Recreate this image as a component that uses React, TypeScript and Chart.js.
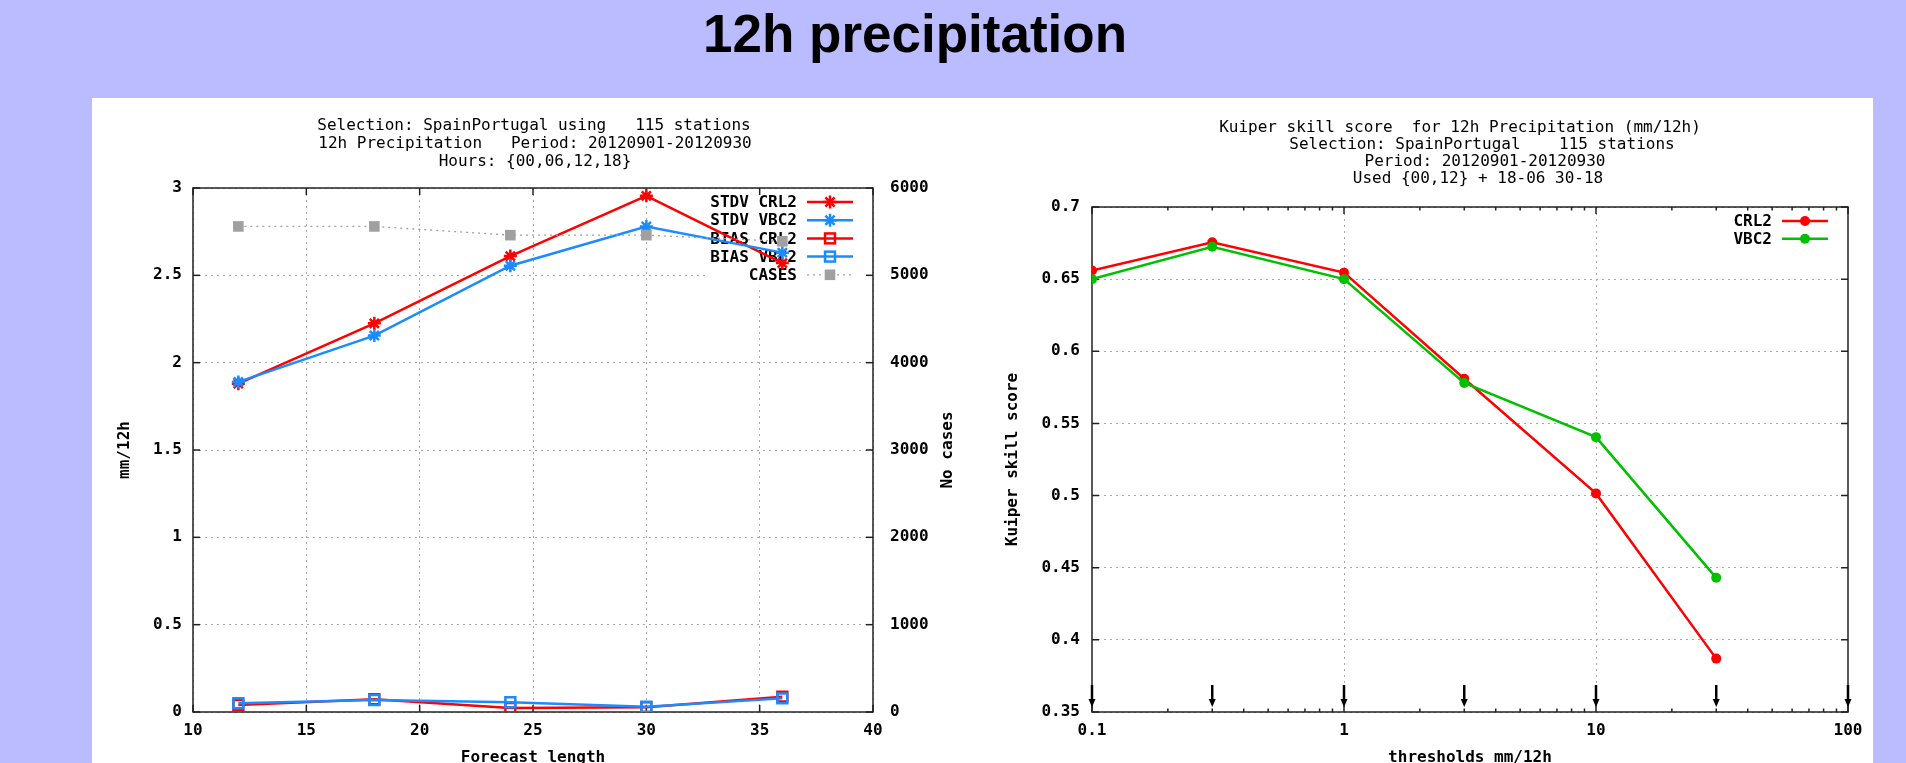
import React, { useEffect, useRef } from 'react';
import { Chart, registerables } from 'chart.js';

Chart.register(...registerables);

// ---------------- data ----------------
const forecastLengths = [12, 18, 24, 30, 36];
const stdvCRL2 = [1.88, 2.225, 2.61, 2.955, 2.57];
const stdvVBC2 = [1.89, 2.155, 2.555, 2.78, 2.63];
const biasCRL2 = [0.04, 0.073, 0.023, 0.027, 0.088];
const biasVBC2 = [0.05, 0.069, 0.056, 0.03, 0.078];
const casesCount = [5560, 5560, 5460, 5460, 5390];

const thresholds = [0.1, 0.3, 1, 3, 10, 30];
const kssCRL2 = [0.656, 0.6755, 0.6545, 0.581, 0.5015, 0.387];
const kssVBC2 = [0.65, 0.6725, 0.65, 0.578, 0.5405, 0.443];
const thresholdArrows = [0.1, 0.3, 1, 3, 10, 30, 100];

const leftTitleLines = [
  'Selection: SpainPortugal using   115 stations',
  '12h Precipitation   Period: 20120901-20120930',
  'Hours: {00,06,12,18}',
];
const rightTitleLines = [
  'Kuiper skill score  for 12h Precipitation (mm/12h)',
  'Selection: SpainPortugal    115 stations',
  'Period: 20120901-20120930',
  'Used {00,12} + 18-06 30-18',
];
const thresholdTickLabels: Record<string, string> = { '0.1': '0.1', '1': '1', '10': '10', '100': '100' };

// ---------------- style ----------------
const MONO = '"DejaVu Sans Mono", "Liberation Mono", monospace';
const RED = '#ff0000';
const BLUE = '#1a8cff';
const GREEN = '#00c000';
const GRAY = '#a0a0a0';
const GRID = '#a8a8a8';
const tickFont = { family: MONO, size: 16, weight: 'bold' as const };

function drawMarker(ctx: CanvasRenderingContext2D, style: string, x: number, y: number, r: number, stroke: string, fill: string, lw: number) {
  ctx.save();
  ctx.setLineDash([]);
  ctx.lineWidth = lw;
  ctx.strokeStyle = stroke;
  ctx.fillStyle = fill;
  if (style === 'star') {
    const d = r * Math.SQRT1_2;
    ctx.beginPath();
    ctx.moveTo(x - r, y); ctx.lineTo(x + r, y);
    ctx.moveTo(x, y - r); ctx.lineTo(x, y + r);
    ctx.moveTo(x - d, y - d); ctx.lineTo(x + d, y + d);
    ctx.moveTo(x - d, y + d); ctx.lineTo(x + d, y - d);
    ctx.stroke();
  } else if (style === 'rect') {
    const s = r * Math.SQRT1_2;
    if (fill && fill !== 'transparent' && fill !== 'rgba(0,0,0,0)') ctx.fillRect(x - s, y - s, 2 * s, 2 * s);
    if (lw > 0) ctx.strokeRect(x - s, y - s, 2 * s, 2 * s);
  } else {
    ctx.beginPath();
    ctx.arc(x, y, r, 0, Math.PI * 2);
    ctx.fill();
  }
  ctx.restore();
}

const decorPlugin = {
  id: 'gnuDecor',
  beforeDatasetsDraw(chart: any, _args: any, opts: any) {
    const ctx: CanvasRenderingContext2D = chart.ctx;
    const a = chart.chartArea;
    ctx.save();
    // key (legend) with opaque box
    const ds = chart.data.datasets;
    ctx.font = `bold 16px ${MONO}`;
    let maxW = 0;
    ds.forEach((d: any) => { maxW = Math.max(maxW, ctx.measureText(d.label).width); });
    const rowStart = 14, rowGap = opts.rowGap;
    const boxBottom = a.top + rowStart + (ds.length - 1) * rowGap + 10;
    ctx.fillStyle = '#ffffff';
    ctx.fillRect(a.right - 76 - maxW - 3, a.top + 1, maxW + 76 + 2, boxBottom - a.top);
    ds.forEach((d: any, i: number) => {
      const y = a.top + rowStart + i * rowGap;
      ctx.fillStyle = '#000';
      ctx.textAlign = 'right';
      ctx.textBaseline = 'middle';
      ctx.fillText(d.label, a.right - 76, y + 1);
      ctx.save();
      ctx.strokeStyle = d.borderColor;
      ctx.lineWidth = d.borderWidth;
      ctx.setLineDash(d.borderDash || []);
      ctx.beginPath();
      ctx.moveTo(a.right - 66, y);
      ctx.lineTo(a.right - 20, y);
      ctx.stroke();
      ctx.restore();
      drawMarker(ctx, d.pointStyle, a.right - 43, y, d.pointRadius, d.pointBorderColor, d.pointBackgroundColor, d.pointBorderWidth);
    });
    // border
    ctx.setLineDash([]);
    ctx.strokeStyle = '#222';
    ctx.lineWidth = 1.5;
    ctx.strokeRect(a.left, a.top, a.right - a.left, a.bottom - a.top);
    // inner tick marks
    ctx.lineWidth = 1.5;
    (opts.tickSpecs || []).forEach((spec: any) => {
      const sc = chart.scales[spec.id];
      sc.ticks.forEach((t: any) => {
        const p = sc.getPixelForValue(t.value);
        const len = spec.isMinor && spec.isMinor(t.value) ? 3.5 : 7;
        ctx.beginPath();
        spec.sides.forEach((side: string) => {
          if (side === 'bottom') { ctx.moveTo(p, a.bottom); ctx.lineTo(p, a.bottom - len); }
          if (side === 'top') { ctx.moveTo(p, a.top); ctx.lineTo(p, a.top + len); }
          if (side === 'left') { ctx.moveTo(a.left, p); ctx.lineTo(a.left + len, p); }
          if (side === 'right') { ctx.moveTo(a.right, p); ctx.lineTo(a.right - len, p); }
        });
        ctx.stroke();
      });
    });
    ctx.restore();
  },
  afterDatasetsDraw(chart: any, _args: any, opts: any) {
    if (!opts.arrows) return;
    const ctx: CanvasRenderingContext2D = chart.ctx;
    const a = chart.chartArea;
    const sx = chart.scales.x;
    ctx.save();
    ctx.strokeStyle = '#000';
    ctx.fillStyle = '#000';
    ctx.lineWidth = 2.5;
    opts.arrows.forEach((v: number) => {
      const x = sx.getPixelForValue(v);
      const tip = a.bottom - 5;
      ctx.beginPath();
      ctx.moveTo(x, a.bottom - 27);
      ctx.lineTo(x, tip - 4);
      ctx.stroke();
      ctx.beginPath();
      ctx.moveTo(x - 3.5, tip - 8);
      ctx.lineTo(x + 3.5, tip - 8);
      ctx.lineTo(x, tip);
      ctx.closePath();
      ctx.fill();
    });
    ctx.restore();
  },
  afterDraw(chart: any, _args: any, opts: any) {
    const ctx: CanvasRenderingContext2D = chart.ctx;
    const a = chart.chartArea;
    const cx = (a.left + a.right) / 2;
    const cy = (a.top + a.bottom) / 2;
    ctx.save();
    ctx.fillStyle = '#000';
    ctx.textAlign = 'center';
    ctx.textBaseline = 'middle';
    ctx.font = `16px ${MONO}`;
    opts.title.forEach((line: string, i: number) => {
      ctx.fillText(line, cx + opts.titleDx[i], a.top + opts.titleDy[i]);
    });
    ctx.font = `bold 16px ${MONO}`;
    ctx.fillText(opts.xTitle, cx, a.bottom + 46);
    const rot = (text: string, x: number) => {
      ctx.save();
      ctx.translate(x, cy);
      ctx.rotate(-Math.PI / 2);
      ctx.fillText(text, 0, 0);
      ctx.restore();
    };
    rot(opts.yTitle, a.left + opts.yTitleDx);
    if (opts.y2Title) rot(opts.y2Title, a.right + opts.y2TitleDx);
    ctx.restore();
  },
};

const fmt = (v: any) => String(parseFloat(Number(v).toFixed(3)));

function leftConfig(): any {
  const pts = (ys: number[]) => forecastLengths.map((x, i) => ({ x, y: ys[i] }));
  return {
    type: 'line',
    data: {
      datasets: [
        { label: 'STDV CRL2', data: pts(stdvCRL2), borderColor: RED, backgroundColor: RED, borderWidth: 2.5, pointStyle: 'star', pointRadius: 6.5, pointBorderWidth: 2.5, pointBorderColor: RED, pointBackgroundColor: RED, yAxisID: 'y', order: 5 },
        { label: 'STDV VBC2', data: pts(stdvVBC2), borderColor: BLUE, backgroundColor: BLUE, borderWidth: 2.5, pointStyle: 'star', pointRadius: 6.5, pointBorderWidth: 2.5, pointBorderColor: BLUE, pointBackgroundColor: BLUE, yAxisID: 'y', order: 4 },
        { label: 'BIAS CRL2', data: pts(biasCRL2), borderColor: RED, backgroundColor: RED, borderWidth: 2.5, pointStyle: 'rect', pointRadius: 7, pointBorderWidth: 2.5, pointBorderColor: RED, pointBackgroundColor: 'rgba(0,0,0,0)', yAxisID: 'y', order: 3 },
        { label: 'BIAS VBC2', data: pts(biasVBC2), borderColor: BLUE, backgroundColor: BLUE, borderWidth: 2.5, pointStyle: 'rect', pointRadius: 7, pointBorderWidth: 2.5, pointBorderColor: BLUE, pointBackgroundColor: 'rgba(0,0,0,0)', yAxisID: 'y', order: 2 },
        { label: 'CASES', data: pts(casesCount), borderColor: GRAY, backgroundColor: GRAY, borderWidth: 1.3, borderDash: [2, 4], pointStyle: 'rect', pointRadius: 7.5, pointBorderWidth: 0, pointBorderColor: GRAY, pointBackgroundColor: GRAY, yAxisID: 'y2', order: 1 },
      ],
    },
    options: {
      animation: false,
      responsive: false,
      devicePixelRatio: 1,
      events: [],
      layout: { padding: { top: 90, left: 0, right: 0, bottom: 0 } },
      plugins: {
        legend: { display: false },
        tooltip: { enabled: false },
        title: { display: false },
        gnuDecor: {
          rowGap: 18.2,
          title: leftTitleLines,
          titleDx: [1, 2, 2],
          titleDy: [-62, -44, -26],
          xTitle: 'Forecast length',
          yTitle: 'mm/12h',
          yTitleDx: -68,
          y2Title: 'No cases',
          y2TitleDx: 75,
          tickSpecs: [
            { id: 'x', sides: ['bottom', 'top'] },
            { id: 'y', sides: ['left'] },
            { id: 'y2', sides: ['right'] },
          ],
        },
      },
      scales: {
        x: {
          type: 'linear', min: 10, max: 40,
          afterFit: (s: any) => { s.height = 66; },
          ticks: { stepSize: 5, padding: 9, font: tickFont, color: '#000', maxRotation: 0, autoSkip: false, callback: fmt },
          grid: { color: GRID, lineWidth: 1, drawTicks: false },
          border: { display: false, dash: [2, 4] },
        },
        y: {
          type: 'linear', position: 'left', min: 0, max: 3,
          afterFit: (s: any) => { s.width = 101; },
          ticks: { stepSize: 0.5, padding: 11, font: tickFont, color: '#000', autoSkip: false, callback: fmt },
          grid: { color: GRID, lineWidth: 1, drawTicks: false },
          border: { display: false, dash: [2, 4] },
        },
        y2: {
          type: 'linear', position: 'right', min: 0, max: 6000,
          afterFit: (s: any) => { s.width = 99; },
          ticks: { stepSize: 1000, padding: 17, font: tickFont, color: '#000', autoSkip: false, callback: fmt },
          grid: { drawOnChartArea: false, drawTicks: false },
          border: { display: false },
        },
      },
    },
    plugins: [decorPlugin],
  };
}

function isDecade(v: number) {
  const l = Math.log10(v);
  return Math.abs(l - Math.round(l)) < 1e-9;
}

function rightConfig(): any {
  const pts = (ys: number[]) => thresholds.map((x, i) => ({ x, y: ys[i] }));
  const logTicks: number[] = [];
  [0.1, 1, 10].forEach((d) => { for (let m = 1; m < 10; m++) logTicks.push(parseFloat((d * m).toPrecision(6))); });
  logTicks.push(100);
  return {
    type: 'line',
    data: {
      datasets: [
        { label: 'CRL2', data: pts(kssCRL2), borderColor: RED, backgroundColor: RED, borderWidth: 2.5, pointStyle: 'circle', pointRadius: 5, pointBorderWidth: 0, pointBorderColor: RED, pointBackgroundColor: RED, order: 2 },
        { label: 'VBC2', data: pts(kssVBC2), borderColor: GREEN, backgroundColor: GREEN, borderWidth: 2.5, pointStyle: 'circle', pointRadius: 5, pointBorderWidth: 0, pointBorderColor: GREEN, pointBackgroundColor: GREEN, order: 1 },
      ],
    },
    options: {
      animation: false,
      responsive: false,
      devicePixelRatio: 1,
      events: [],
      layout: { padding: { top: 109, left: 0, right: 25, bottom: 0 } },
      plugins: {
        legend: { display: false },
        tooltip: { enabled: false },
        title: { display: false },
        gnuDecor: {
          rowGap: 17.8,
          title: rightTitleLines,
          titleDx: [-10, 12, 15, 8],
          titleDy: [-79, -62, -45, -28.5],
          xTitle: 'thresholds mm/12h',
          yTitle: 'Kuiper skill score',
          yTitleDx: -79,
          arrows: thresholdArrows,
          tickSpecs: [
            { id: 'x', sides: ['bottom', 'top'], isMinor: (v: number) => !isDecade(v) },
            { id: 'y', sides: ['left', 'right'] },
          ],
        },
      },
      scales: {
        x: {
          type: 'logarithmic', min: 0.1, max: 100,
          afterFit: (s: any) => { s.height = 66; },
          afterBuildTicks: (s: any) => { s.ticks = logTicks.map((v) => ({ value: v })); },
          ticks: {
            padding: 9, font: tickFont, color: '#000', maxRotation: 0, autoSkip: false,
            callback: (v: any) => (isDecade(Number(v)) ? thresholdTickLabels[fmt(v)] ?? fmt(v) : ''),
          },
          grid: {
            color: (c: any) => (c.tick && (Math.abs(c.tick.value - 1) < 1e-9 || Math.abs(c.tick.value - 10) < 1e-9) ? GRID : 'rgba(0,0,0,0)'),
            lineWidth: 1, drawTicks: false,
          },
          border: { display: false, dash: [2, 4] },
        },
        y: {
          type: 'linear', position: 'left', min: 0.35, max: 0.7,
          afterFit: (s: any) => { s.width = 112; },
          ticks: { stepSize: 0.05, padding: 12, font: tickFont, color: '#000', autoSkip: false, callback: fmt },
          grid: { color: GRID, lineWidth: 1, drawTicks: false },
          border: { display: false, dash: [2, 4] },
        },
      },
    },
    plugins: [decorPlugin],
  };
}

export default function App() {
  const leftRef = useRef<HTMLCanvasElement>(null);
  const rightRef = useRef<HTMLCanvasElement>(null);

  useEffect(() => {
    const c1 = new Chart(leftRef.current as HTMLCanvasElement, leftConfig());
    const c2 = new Chart(rightRef.current as HTMLCanvasElement, rightConfig());
    return () => { c1.destroy(); c2.destroy(); };
  }, []);

  return (
    <div style={{ position: 'fixed', left: 0, top: 0, width: 1906, height: 763, overflow: 'hidden', background: '#bbbbff' }}>
      <div style={{ position: 'absolute', left: 0, top: 7, width: 1830, textAlign: 'center', font: 'bold 53px "Liberation Sans", Arial, sans-serif', lineHeight: '53px', color: '#000' }}>
        12h precipitation
      </div>
      <div style={{ position: 'absolute', left: 92, top: 98, width: 1781, height: 700, background: '#ffffff' }} />
      <canvas ref={leftRef} width={880} height={680} style={{ position: 'absolute', left: 92, top: 98, width: 880, height: 680 }} />
      <canvas ref={rightRef} width={893} height={680} style={{ position: 'absolute', left: 980, top: 98, width: 893, height: 680 }} />
    </div>
  );
}
